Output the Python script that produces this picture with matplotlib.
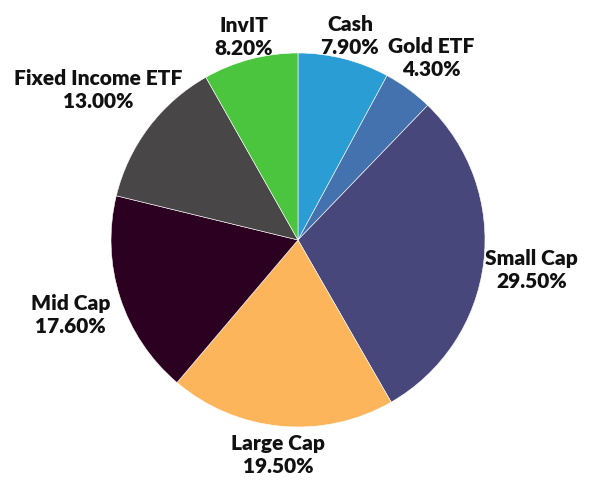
import numpy as np
import matplotlib
matplotlib.use("Agg")
import matplotlib.pyplot as plt

# ---- data ----
categories = ["Cash", "Gold ETF", "Small Cap", "Large Cap", "Mid Cap",
              "Fixed Income ETF", "InvIT"]
shares = [7.9, 4.3, 29.5, 19.5, 17.6, 13.0, 8.2]
colors = ["#2a9ed4", "#4372ae", "#48477b", "#fdb55b", "#2c0020",
          "#484647", "#4bc53e"]
# label distance from centre, in pie radii
label_dist = [1.13, 1.21, 1.26, 1.15, 1.28, 1.34, 1.13]

plt.rcParams["font.family"] = ["Lato", "DejaVu Sans"]

W, H = 599, 481
fig = plt.figure(figsize=(W / 100, H / 100), dpi=100)
cx, cy, R = 298, 241, 187
ax = fig.add_axes([(cx - R) / W, (H - cy - R) / H, 2 * R / W, 2 * R / H])

wedges, _ = ax.pie(shares, colors=colors, startangle=90, counterclock=False,
                   radius=1.0, wedgeprops=dict(edgecolor="white", linewidth=0.4))

total = sum(shares)
start = 90.0
for name, val, d in zip(categories, shares, label_dist):
    ang = np.deg2rad(start - val / total * 360 / 2)
    start -= val / total * 360
    ax.text(d * np.cos(ang), d * np.sin(ang), f"{name}\n{val:.2f}%",
            ha="center", va="center", fontsize=15, fontweight="heavy",
            color="#111111", linespacing=1.25)

ax.set_xlim(-1, 1)
ax.set_ylim(-1, 1)
ax.set_aspect("equal")
ax.axis("off")

fig.savefig("out.png", dpi=100)
